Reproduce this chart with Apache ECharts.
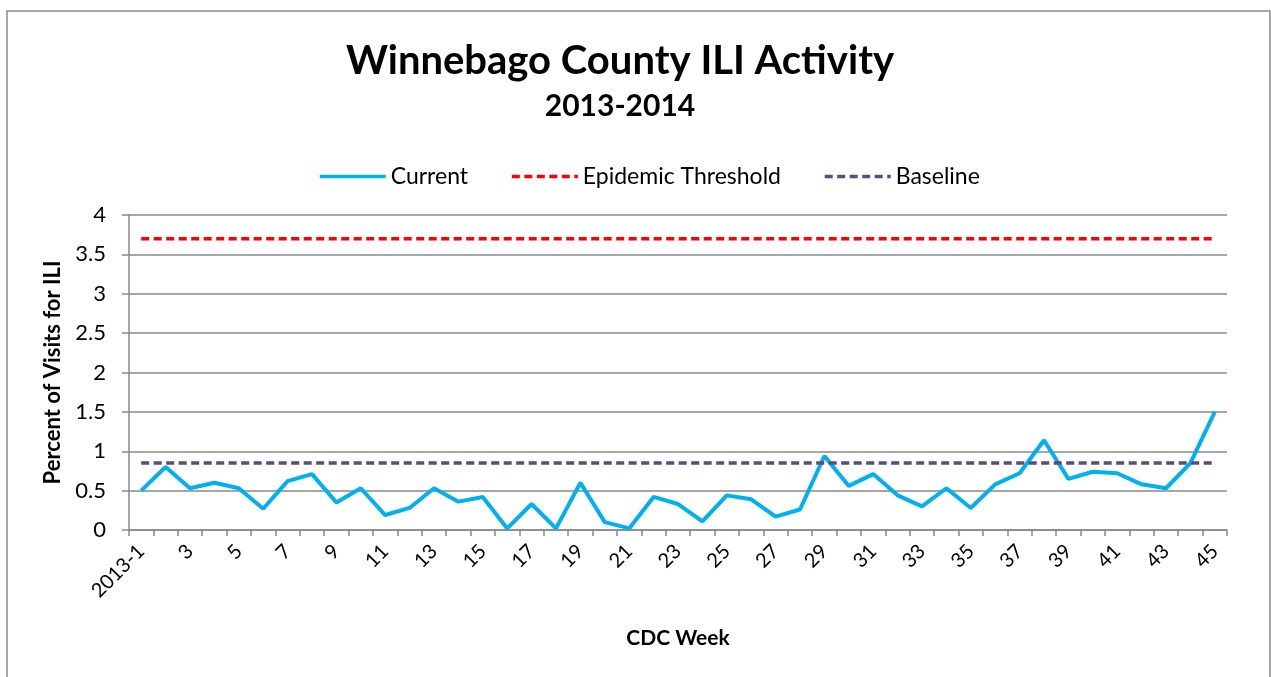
<!DOCTYPE html>
<html>
<head>
<meta charset="utf-8">
<title>Winnebago County ILI Activity</title>
<script src="https://cdn.jsdelivr.net/npm/echarts@6/dist/echarts.min.js"></script>
<style>
  html, body { margin: 0; padding: 0; background: #fff; }
  #chart { width: 1271px; height: 677px; }
</style>
</head>
<body>
<div id="chart"></div>
<script>
// CDC weeks, first one labelled with the year
const weeks = ['2013-1', '2', '3', '4', '5', '6', '7', '8', '9', '10',
  '11', '12', '13', '14', '15', '16', '17', '18', '19', '20',
  '21', '22', '23', '24', '25', '26', '27', '28', '29', '30',
  '31', '32', '33', '34', '35', '36', '37', '38', '39', '40',
  '41', '42', '43', '44', '45'];

// percent of visits for ILI
const current = [0.50, 0.80, 0.53, 0.60, 0.53, 0.27, 0.62, 0.71, 0.35, 0.53,
  0.19, 0.28, 0.53, 0.36, 0.42, 0.02, 0.33, 0.02, 0.60, 0.10,
  0.02, 0.42, 0.33, 0.11, 0.44, 0.39, 0.17, 0.26, 0.94, 0.56,
  0.71, 0.44, 0.30, 0.53, 0.28, 0.58, 0.72, 1.14, 0.65, 0.74,
  0.72, 0.58, 0.53, 0.85, 1.50];

const epidemicThreshold = [3.7, 3.7, 3.7, 3.7, 3.7, 3.7, 3.7, 3.7, 3.7, 3.7,
  3.7, 3.7, 3.7, 3.7, 3.7, 3.7, 3.7, 3.7, 3.7, 3.7,
  3.7, 3.7, 3.7, 3.7, 3.7, 3.7, 3.7, 3.7, 3.7, 3.7,
  3.7, 3.7, 3.7, 3.7, 3.7, 3.7, 3.7, 3.7, 3.7, 3.7,
  3.7, 3.7, 3.7, 3.7, 3.7];

const baseline = [0.85, 0.85, 0.85, 0.85, 0.85, 0.85, 0.85, 0.85, 0.85, 0.85,
  0.85, 0.85, 0.85, 0.85, 0.85, 0.85, 0.85, 0.85, 0.85, 0.85,
  0.85, 0.85, 0.85, 0.85, 0.85, 0.85, 0.85, 0.85, 0.85, 0.85,
  0.85, 0.85, 0.85, 0.85, 0.85, 0.85, 0.85, 0.85, 0.85, 0.85,
  0.85, 0.85, 0.85, 0.85, 0.85];

const font = 'Lato, "Open Sans", sans-serif';
const gray = '#898989';

const chart = echarts.init(document.getElementById('chart'));
chart.setOption({
  backgroundColor: '#fff',
  animation: false,
  textStyle: { fontFamily: font, color: '#000' },
  graphic: [{
    type: 'rect',
    shape: { x: 7, y: 11, width: 1263, height: 700 },
    style: { fill: 'none', stroke: gray, lineWidth: 1.5 },
    silent: true
  }],
  title: [
    {
      text: 'Winnebago County ILI Activity',
      left: 615,
      top: 36,
      textAlign: 'center',
      textStyle: { fontFamily: font, fontSize: 40, fontWeight: 'bold', color: '#000' }
    },
    {
      text: '2013-2014',
      left: 615,
      top: 86,
      textAlign: 'center',
      textStyle: { fontFamily: font, fontSize: 30, fontWeight: 'bold', color: '#000' }
    }
  ],
  legend: {
    top: 160,
    left: 313,
    itemWidth: 66,
    itemHeight: 14,
    itemGap: 42,
    itemStyle: { opacity: 0 },
    lineStyle: { width: 3.5 },
    textStyle: { fontFamily: font, fontSize: 23, color: '#000' },
    data: ['Current', 'Epidemic Threshold', 'Baseline']
  },
  grid: {
    left: 129,
    right: 44,
    top: 215,
    bottom: 147,
    containLabel: false
  },
  xAxis: {
    type: 'category',
    data: weeks,
    boundaryGap: true,
    name: 'CDC Week',
    nameLocation: 'middle',
    nameGap: 98,
    nameTextStyle: { fontFamily: font, fontSize: 21, fontWeight: 'bold', color: '#000' },
    axisLine: { lineStyle: { color: gray, width: 1.5 } },
    axisTick: { show: true, interval: 0, length: 6, lineStyle: { color: gray, width: 1.5 } },
    axisLabel: {
      interval: 1,
      rotate: 45,
      margin: 18,
      fontFamily: font,
      fontSize: 20,
      color: '#000'
    },
    splitLine: { show: false }
  },
  yAxis: {
    type: 'value',
    min: 0,
    max: 4,
    interval: 0.5,
    name: 'Percent of Visits for ILI',
    nameLocation: 'middle',
    nameGap: 62,
    nameTextStyle: { fontFamily: font, fontSize: 22, fontWeight: 'bold', color: '#000' },
    axisLine: { show: true, lineStyle: { color: gray, width: 1.5 } },
    axisTick: { show: true, length: 7, lineStyle: { color: gray, width: 1.5 } },
    axisLabel: { margin: 23, fontFamily: font, fontSize: 22, color: '#000' },
    splitLine: { show: true, lineStyle: { color: gray, width: 1.5 } }
  },
  series: [
    {
      name: 'Current',
      type: 'line',
      data: current,
      symbol: 'none',
      lineStyle: { color: '#00B0F0', width: 4 },
      itemStyle: { color: '#00B0F0' }
    },
    {
      name: 'Epidemic Threshold',
      type: 'line',
      data: epidemicThreshold,
      symbol: 'none',
      lineStyle: { color: '#FF0000', width: 3.5, type: [8, 4.5] },
      itemStyle: { color: '#FF0000' }
    },
    {
      name: 'Baseline',
      type: 'line',
      data: baseline,
      symbol: 'none',
      lineStyle: { color: '#604A7B', width: 3.5, type: [8, 4.5] },
      itemStyle: { color: '#604A7B' }
    }
  ]
});
</script>
</body>
</html>
